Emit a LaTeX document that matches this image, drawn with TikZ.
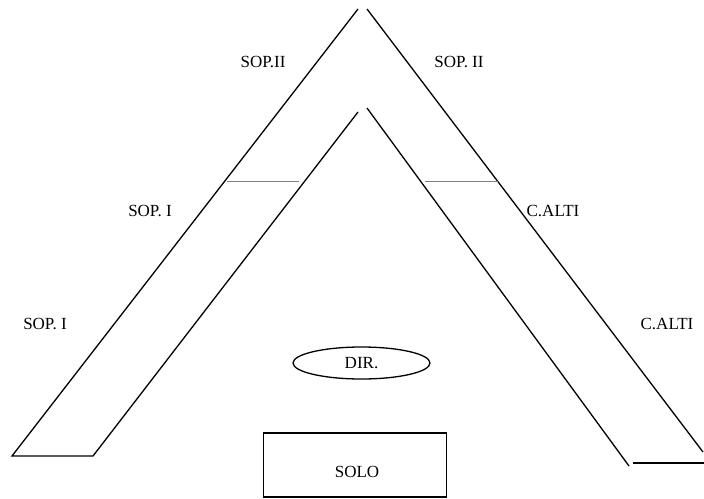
\documentclass[tikz,border=0pt]{standalone}
\usepackage{fontspec}
\setmainfont{Liberation Serif}
\usetikzlibrary{shapes.geometric}
\begin{document}
\begin{tikzpicture}[x=1pt,y=-1pt,
  wall/.style={line width=1.3pt,black},
  divider/.style={line width=1pt,gray},
  lbl/.style={font=\fontsize{17}{20}\selectfont,inner sep=0pt},
  podium/.style={draw,line width=1.3pt,ellipse,minimum width=137pt,minimum height=32pt,inner sep=0pt,font=\fontsize{17}{20}\selectfont},
  solobox/.style={draw,line width=1.3pt,rectangle,minimum width=183pt,minimum height=64pt,inner sep=0pt}]
\useasboundingbox (0,0) rectangle (704,498);
% left wing
\coordinate (LOtop) at (358,9);
\coordinate (LObot) at (12,456);
\coordinate (LIbot) at (93,456);
\coordinate (LItop) at (358,112);
\draw[wall] (LOtop) -- (LObot) -- (LIbot) -- (LItop);
% right wing
\coordinate (ROtop) at (367,9);
\coordinate (RObot) at (703,452);
\coordinate (RItop) at (367,108);
\coordinate (RIbot) at (629,466);
\coordinate (RBa) at (633,463);
\coordinate (RBb) at (704,463);
\draw[wall] (ROtop) -- (RObot);
\draw[wall] (RItop) -- (RIbot);
\draw[wall] (RBa) -- (RBb);
% section dividers
\coordinate (LDa) at (227,181);
\coordinate (LDb) at (299,181);
\coordinate (RDa) at (425,181);
\coordinate (RDb) at (498,181);
\draw[divider] (LDa) -- (LDb);
\draw[divider] (RDa) -- (RDb);
% section labels
\node[lbl] (sopIIl) at (263,62) {SOP.II};
\node[lbl] (sopIIr) at (459,62) {SOP. II};
\node[lbl] (sopIa) at (150,211) {SOP. I};
\node[lbl] (sopIb) at (45,324) {SOP. I};
\node[lbl] (caltia) at (553,211) {C.ALTI};
\node[lbl] (caltib) at (667,324) {C.ALTI};
% director and soloist
\node[podium] (dir) at (361.5,363) {DIR.};
\node[solobox] (solo) at (355,465) {};
\node[lbl] (solotxt) at (357,472) {SOLO};
\end{tikzpicture}
\end{document}
